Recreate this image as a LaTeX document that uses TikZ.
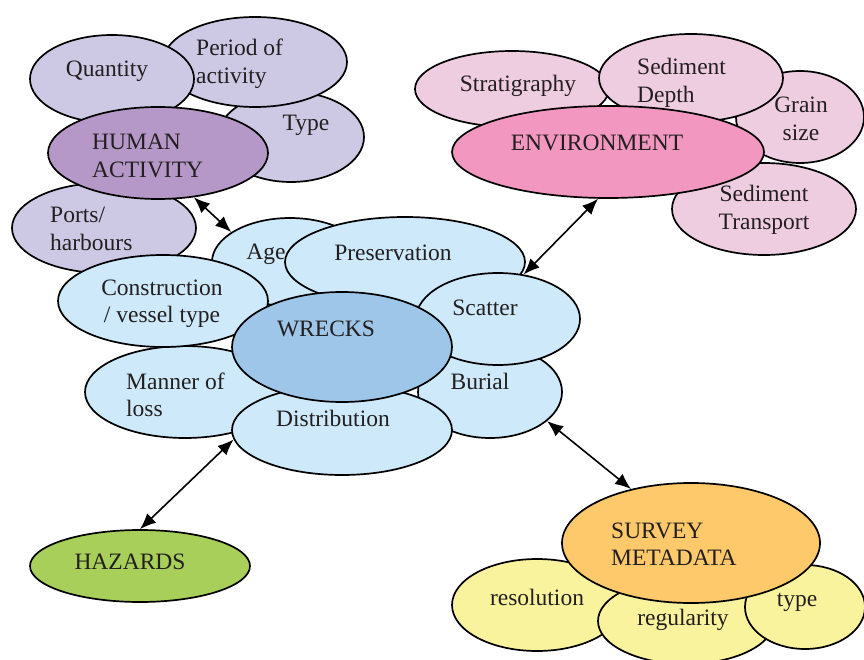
\documentclass[tikz,border=0pt]{standalone}
\usepackage{fontspec}
\setmainfont{Liberation Serif}
\usetikzlibrary{shapes.geometric,arrows.meta}
\definecolor{txtc}{HTML}{231F20}
\definecolor{humlight}{HTML}{CDC9E5}
\definecolor{humdark}{HTML}{B598C8}
\definecolor{envlight}{HTML}{EFCDE1}
\definecolor{envdark}{HTML}{F297BF}
\definecolor{wrelight}{HTML}{CDE9FA}
\definecolor{wredark}{HTML}{9DC6E8}
\definecolor{hazc}{HTML}{A7CF5A}
\definecolor{surdark}{HTML}{FEC96A}
\definecolor{surlight}{HTML}{FAF39D}
\tikzset{
  ell/.style={ellipse, draw=black, line width=1.7pt, inner sep=0pt},
  txt/.style={font=\fontsize{23.5}{27.5}\selectfont, text=txtc, inner sep=0pt, align=left},
  ctxt/.style={txt, align=center},
  conn/.style={{Latex[length=16pt,width=13pt]}-{Latex[length=16pt,width=13pt]}, line width=1.6pt, draw=black},
}
\begin{document}
\begin{tikzpicture}[x=1pt,y=-1pt]
\useasboundingbox (0,0) rectangle (864,660);
% ---- Human activity group
\node[ell, fill=humlight, minimum width=146pt, minimum height=90pt] (htype) at (291,137) {};
\node[txt] (t-htype) at (306,125) {Type};
\node[ell, fill=humlight, minimum width=184pt, minimum height=90pt] (period) at (255,62) {};
\node[txt, anchor=west] (t-period) at (196,64) {Period of\\activity};
\node[ell, fill=humlight, minimum width=164pt, minimum height=88pt] (quantity) at (112,79) {};
\node[txt] (t-quantity) at (107,71) {Quantity};
\node[ell, fill=humlight, minimum width=184pt, minimum height=90pt] (ports) at (104,228) {};
\node[txt, anchor=west] (t-ports) at (50,229) {Ports/\\harbours};
\node[ell, fill=humdark, minimum width=220pt, minimum height=92pt] (human) at (158,153) {};
\node[txt, anchor=west] (t-human) at (92,156) {HUMAN\\ACTIVITY};
% ---- Environment group
\node[ell, fill=envlight, minimum width=128pt, minimum height=92pt] (grain) at (800,117) {};
\node[ctxt] (t-grain) at (801,119) {Grain\\size};
\node[ell, fill=envlight, minimum width=194pt, minimum height=76pt] (strat) at (512,89) {};
\node[txt] (t-strat) at (518,86) {Stratigraphy};
\node[ell, fill=envlight, minimum width=184pt, minimum height=88pt] (depth) at (691,78) {};
\node[txt, anchor=west] (t-depth) at (637,83) {Sediment\\Depth};
\node[ell, fill=envlight, minimum width=184pt, minimum height=92pt] (transport) at (764,209) {};
\node[ctxt] (t-transport) at (764,210) {Sediment\\Transport};
\node[ell, fill=envdark, minimum width=312pt, minimum height=92pt] (env) at (608,152) {};
\node[txt] (t-env) at (597,143) {ENVIRONMENT};
% ---- Wrecks group
\node[ell, fill=wrelight, minimum width=156pt, minimum height=88pt] (age) at (290,262) {};
\node[txt] (t-age) at (266,254) {Age};
\node[ell, fill=wrelight, minimum width=240pt, minimum height=90pt] (pres) at (405,262) {};
\node[txt] (t-pres) at (393,253) {Preservation};
\node[ell, fill=wrelight, minimum width=144pt, minimum height=92pt] (burial) at (490,392) {};
\node[txt] (t-burial) at (480,381) {Burial};
\node[ell, fill=wrelight, minimum width=164pt, minimum height=92pt] (scatter) at (498,319) {};
\node[txt] (t-scatter) at (485,308) {Scatter};
\node[ell, fill=wrelight, minimum width=200pt, minimum height=92pt] (manner) at (185,392) {};
\node[txt, anchor=west] (t-manner) at (126,395) {Manner of\\loss};
\node[ell, fill=wrelight, minimum width=210pt, minimum height=92pt] (constr) at (163,301) {};
\node[ctxt] (t-constr) at (162,304) {Construction\\/ vessel type};
\node[ell, fill=wrelight, minimum width=220pt, minimum height=90pt] (dist) at (342,430) {};
\node[txt] (t-dist) at (333,418) {Distribution};
\node[ell, fill=wredark, minimum width=220pt, minimum height=110pt] (wrecks) at (342,347) {};
\node[txt] (t-wrecks) at (326,329) {WRECKS};
% ---- Hazards
\node[ell, fill=hazc, minimum width=220pt, minimum height=72pt] (haz) at (140,566) {};
\node[txt] (t-haz) at (130,562) {HAZARDS};
% ---- Survey group
\node[ell, fill=surlight, minimum width=170pt, minimum height=92pt] (resol) at (537,605) {};
\node[txt] (t-resol) at (537,597) {resolution};
\node[ell, fill=surlight, minimum width=176pt, minimum height=86pt] (regul) at (686,621) {};
\node[txt] (t-regul) at (683,620) {regularity};
\node[ell, fill=surlight, minimum width=120pt, minimum height=84pt] (stype) at (805,607) {};
\node[txt] (t-stype) at (797,602) {type};
\node[ell, fill=surdark, minimum width=258pt, minimum height=120pt] (survey) at (691,543) {};
\node[txt, anchor=west] (t-survey) at (611,544) {SURVEY\\METADATA};
% ---- Connectors
\draw[conn] (human.-51) -- (age.153);
\draw[conn] (env.-102) -- (scatter.60);
\draw[conn] (dist.185) -- (haz.90);
\draw[conn] (burial.-27) -- (survey.138);
\end{tikzpicture}
\end{document}
